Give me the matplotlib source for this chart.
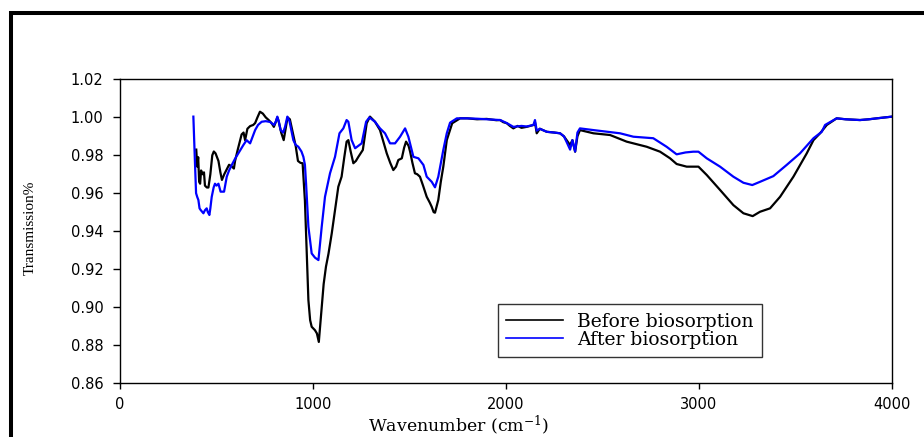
import matplotlib.pyplot as plt
from matplotlib.lines import Line2D

# FTIR spectra
wn_before = [395, 400, 405, 410, 415, 420, 428, 435, 440, 450, 458, 468, 478, 486, 495,
             510, 520, 528, 540, 555, 565, 580, 590, 596, 610, 630, 640, 648, 660, 674,
             690, 700, 712, 725, 740, 755, 770, 785, 797, 805, 815, 822, 835, 848, 858,
             868, 880, 895, 910, 922, 935, 946, 958, 967, 976, 985, 993, 1010, 1020, 1030,
             1045, 1055, 1067, 1080, 1097, 1115, 1131, 1148, 1162, 1174, 1183, 1195, 1209,
             1222, 1235, 1258, 1278, 1295, 1321, 1347, 1365, 1382, 1400, 1416, 1430, 1442,
             1460, 1472, 1482, 1495, 1503, 1515, 1528, 1540, 1554, 1570, 1589, 1605, 1615,
             1625, 1632, 1649, 1662, 1675, 1693, 1721, 1762, 1800, 1850, 1900, 1950, 1969,
             1985, 2004, 2020, 2038, 2060, 2080, 2107, 2142, 2150, 2159, 2175, 2211, 2250,
             2280, 2300, 2314, 2332, 2344, 2358, 2370, 2383, 2453, 2539, 2625, 2729, 2798,
             2850, 2884, 2936, 2997, 3040, 3109, 3178, 3230, 3278, 3316, 3368, 3420, 3489,
             3558, 3593, 3627, 3662, 3713, 3760, 3834, 3880, 3921, 4000]
t_before = [0.983, 0.974, 0.979, 0.966, 0.965, 0.972, 0.970, 0.971, 0.964, 0.963, 0.963,
            0.970, 0.980, 0.982, 0.981, 0.977, 0.971, 0.967, 0.970, 0.973, 0.975, 0.974,
            0.973, 0.977, 0.983, 0.991, 0.992, 0.988, 0.994, 0.9954, 0.996, 0.997, 1.000,
            1.003, 1.002, 1.000, 0.9986, 0.997, 0.995, 0.997, 1.000, 0.998, 0.992, 0.988,
            0.994, 1.000, 0.999, 0.992, 0.985, 0.977, 0.976, 0.9758, 0.956, 0.930, 0.9036,
            0.893, 0.8895, 0.8877, 0.886, 0.8815, 0.900, 0.912, 0.9212, 0.928, 0.9388,
            0.952, 0.9634, 0.9687, 0.979, 0.9872, 0.988, 0.982, 0.9758, 0.977, 0.9792,
            0.9828, 0.9969, 1.0004, 0.9977, 0.9933, 0.987, 0.981, 0.976, 0.9722, 0.974,
            0.9775, 0.9784, 0.984, 0.9872, 0.985, 0.9819, 0.976, 0.9705, 0.970, 0.9687,
            0.964, 0.9581, 0.955, 0.9528, 0.950, 0.9497, 0.9564, 0.966, 0.974, 0.988,
            0.9969, 0.9995, 0.9995, 0.9990, 0.9992, 0.9985, 0.9986, 0.9975, 0.9969, 0.9955,
            0.9942, 0.9955, 0.9945, 0.995, 0.996, 0.9975, 0.9916, 0.994, 0.9924, 0.992,
            0.9916, 0.990, 0.988, 0.9854, 0.988, 0.9819, 0.990, 0.9933, 0.9916, 0.9907,
            0.9872, 0.9845, 0.9819, 0.9784, 0.9754, 0.974, 0.974, 0.9696, 0.9617, 0.9537,
            0.9494, 0.9479, 0.9502, 0.952, 0.9581, 0.9687, 0.981, 0.988, 0.9916, 0.996,
            0.9995, 0.999, 0.9986, 0.999, 0.9995, 1.0004]

wn_after = [380, 385, 389, 394, 400, 406, 412, 418, 432, 440, 449, 455, 463, 468, 475,
            485, 492, 500, 510, 521, 539, 553, 565, 579, 595, 613, 625, 639, 656, 666,
            674, 688, 700, 715, 734, 755, 777, 798, 808, 815, 822, 832, 845, 855, 867,
            878, 898, 910, 924, 940, 950, 958, 964, 976, 993, 1010, 1028, 1045, 1062,
            1088, 1114, 1137, 1157, 1174, 1183, 1200, 1218, 1235, 1252, 1275, 1292, 1321,
            1347, 1373, 1399, 1425, 1451, 1477, 1494, 1520, 1546, 1572, 1589, 1615, 1632,
            1649, 1675, 1693, 1710, 1745, 1796, 1850, 1900, 1950, 1970, 2004, 2038, 2080,
            2107, 2142, 2150, 2159, 2175, 2211, 2250, 2280, 2300, 2314, 2332, 2344, 2358,
            2370, 2383, 2453, 2591, 2660, 2763, 2832, 2884, 2930, 2970, 2997, 3040, 3109,
            3178, 3230, 3276, 3316, 3385, 3454, 3523, 3593, 3636, 3653, 3713, 3760, 3834,
            3880, 3921, 4000]
t_after = [1.0004, 0.985, 0.974, 0.960, 0.958, 0.9564, 0.952, 0.9511, 0.9494, 0.951,
           0.952, 0.950, 0.9485, 0.952, 0.958, 0.963, 0.965, 0.964, 0.965, 0.9608, 0.9608,
           0.9687, 0.972, 0.9749, 0.978, 0.981, 0.983, 0.9854, 0.988, 0.987, 0.9863, 0.990,
           0.9933, 0.996, 0.9977, 0.998, 0.9976, 0.996, 0.998, 1.0004, 0.998, 0.9933, 0.992,
           0.995, 1.0004, 0.998, 0.988, 0.9855, 0.9845, 0.982, 0.9792, 0.975, 0.965, 0.9423,
           0.9282, 0.926, 0.9247, 0.9423, 0.9581, 0.9705, 0.9792, 0.9916, 0.9942, 0.9986,
           0.9977, 0.988, 0.9837, 0.985, 0.9863, 0.9977, 1.000, 0.9977, 0.9942, 0.9916,
           0.9863, 0.9863, 0.9898, 0.9942, 0.9898, 0.9792, 0.9784, 0.9749, 0.9687, 0.966,
           0.9631, 0.9687, 0.9828, 0.9916, 0.9972, 0.9995, 0.9995, 0.9993, 0.999, 0.9987,
           0.9986, 0.997, 0.995, 0.9955, 0.9952, 0.996, 0.9986, 0.993, 0.994, 0.9924, 0.992,
           0.9916, 0.990, 0.987, 0.983, 0.988, 0.982, 0.992, 0.9942, 0.9933, 0.9916, 0.9898,
           0.989, 0.9845, 0.9805, 0.9815, 0.9819, 0.9819, 0.9784, 0.974, 0.9687, 0.9655,
           0.9643, 0.966, 0.969, 0.9749, 0.981, 0.989, 0.9924, 0.996, 0.9995, 0.999, 0.9986,
           0.999, 0.9995, 1.0004]

labels = ['Before biosorption', 'After biosorption']
x_ticks = [0, 1000, 2000, 3000, 4000]
y_ticks = [0.86, 0.88, 0.90, 0.92, 0.94, 0.96, 0.98, 1.00, 1.02]

plt.rcParams['mathtext.fontset'] = 'dejavuserif'

fig = plt.figure(figsize=(9.24, 4.37), dpi=100)
ax = fig.add_axes([0.1299, 0.1243, 0.8355, 0.6938])

ax.plot(wn_before, t_before, color='black', lw=1.6)
ax.plot(wn_after, t_after, color='#0000ff', lw=1.6)

ax.set_xlim(0, 4000)
ax.set_ylim(0.86, 1.02)
ax.set_xticks(x_ticks)
ax.set_yticks(y_ticks)
ax.set_yticklabels(['%.2f' % v for v in y_ticks])
ax.tick_params(axis='x', direction='out', length=4, width=1, pad=6, labelsize=10.5)
ax.tick_params(axis='y', direction='out', length=5, width=1, pad=7, labelsize=10.5)
for s in ax.spines.values():
    s.set_linewidth(1)

ax.set_xlabel('Wavenumber (cm$^{-1}$)', family='DejaVu Serif', fontsize=12.5)
ax.xaxis.set_label_coords(0.439, -0.162)
ax.xaxis.label.set_verticalalignment('baseline')
ax.set_ylabel('Transmission%', family='Liberation Serif', fontsize=11)
ax.yaxis.set_label_coords(-0.108, 0.51)

handles = [Line2D([], [], color='black', lw=1.2), Line2D([], [], color='#0000ff', lw=1.2)]
leg = ax.legend(handles, labels, loc='lower left', bbox_to_anchor=(0.4896, 0.0848),
                borderaxespad=0, prop={'family': 'DejaVu Serif', 'size': 13.5},
                frameon=True, fancybox=False, shadow=False, handlelength=3.0,
                handletextpad=0.75, labelspacing=0.0, borderpad=0.45)
leg.get_frame().set_edgecolor('black')
leg.get_frame().set_linewidth(1)

# thick frame lines on top and left edge of the picture
fig.add_artist(Line2D([0.0101, 1.0], [0.9703, 0.9703], color='black', lw=2.9,
                      transform=fig.transFigure, solid_capstyle='butt'))
fig.add_artist(Line2D([0.0122, 0.0122], [0.0, 0.9749], color='black', lw=2.9,
                      transform=fig.transFigure, solid_capstyle='butt'))

fig.savefig('out.png', dpi=100)
